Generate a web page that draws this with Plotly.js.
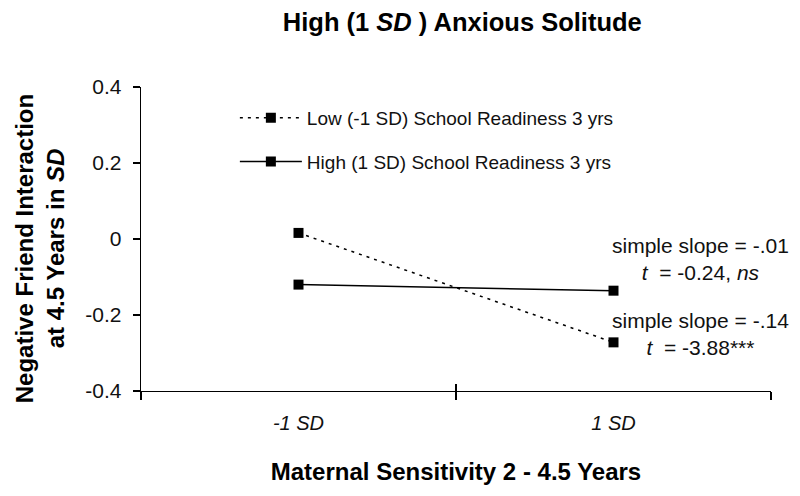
<!DOCTYPE html>
<html>
<head>
<meta charset="utf-8">
<script src="https://cdn.plot.ly/plotly-3.0.1.min.js"></script>
<style>
  body { margin: 0; background: white; }
  #chart { width: 800px; height: 496px; }
</style>
</head>
<body>
<div id="chart"></div>
<script>
// maternal sensitivity levels (x categories)
const sensitivity = ["-1 SD", "1 SD"];

// negative friend interaction at 4.5 yrs, per school readiness group
const lowReadiness = [0.016, -0.272];
const highReadiness = [-0.12, -0.136];

const seriesNames = [
  "Low (-1 SD) School Readiness 3 yrs",
  "High (1 SD) School Readiness 3 yrs",
];

const yTickVals = [-0.4, -0.2, 0, 0.2, 0.4];
const yTickText = ["-0.4", "-0.2", "0", "0.2", "0.4"];

const slopeNotes = [
  { text: "simple slope = -.01<br><i>t</i>  = -0.24, <i>ns</i>", y: -0.053 },
  { text: "simple slope = -.14<br><i>t</i>  = -3.88***", y: -0.251 },
];

const FONT = "Liberation Sans, Arial, Helvetica, sans-serif";

const traceLow = {
  x: sensitivity,
  y: lowReadiness,
  mode: "lines+markers",
  name: seriesNames[0],
  legendgroup: "low",
  line: { color: "#000", width: 1.5, dash: "3px,5px" },
  marker: { symbol: "square", size: 10, color: "#000" },
};

const traceHigh = {
  x: sensitivity,
  y: highReadiness,
  mode: "lines+markers",
  name: seriesNames[1],
  legendgroup: "high",
  line: { color: "#000", width: 1.5 },
  marker: { symbol: "square", size: 10, color: "#000" },
};

// invisible trace so the overlay axis (upper half of the crossing ticks) gets drawn
const traceTicks = {
  x: [0.5],
  y: [0],
  xaxis: "x2",
  mode: "markers",
  marker: { opacity: 0 },
  showlegend: false,
  hoverinfo: "skip",
};

const annotations = slopeNotes.map((n) => ({
  text: n.text,
  xref: "paper",
  x: 0.888,
  yref: "y",
  y: n.y,
  xanchor: "center",
  yanchor: "middle",
  showarrow: false,
  align: "center",
  font: { family: FONT, size: 21, color: "#111" },
}));

// y axis title as rotated annotation
annotations.push({
  text: "Negative Friend Interaction<br>at 4.5 Years in <i>SD</i>",
  textangle: -90,
  xref: "paper",
  x: -0.16,
  yref: "paper",
  y: 0.467,
  xanchor: "center",
  yanchor: "middle",
  showarrow: false,
  font: { family: FONT, size: 24, color: "#000", weight: "bold" },
});

const layout = {
  width: 800,
  height: 496,
  margin: { l: 141, r: 29, t: 87, b: 105 },
  paper_bgcolor: "white",
  plot_bgcolor: "white",
  font: { family: FONT, size: 20, color: "#111" },
  title: {
    text: "High (1 <i>SD</i> ) Anxious Solitude",
    xref: "paper",
    x: 0.51,
    yref: "container",
    y: 0.955,
    yanchor: "middle",
    font: { family: FONT, size: 25.5, color: "#000", weight: "bold" },
  },
  xaxis: {
    type: "category",
    range: [-0.5, 1.5],
    tickson: "boundaries",
    ticks: "outside",
    ticklen: 8,
    tickwidth: 1.3,
    tickcolor: "#000",
    showline: true,
    linecolor: "#000",
    linewidth: 1.3,
    showgrid: false,
    zeroline: false,
    tickfont: { family: FONT, size: 20, style: "italic", color: "#111" },
    ticklabelstandoff: 14,
    title: {
      text: "Maternal Sensitivity 2 - 4.5 Years",
      standoff: 30,
      font: { family: FONT, size: 24, color: "#000", weight: "bold" },
    },
  },
  xaxis2: {
    overlaying: "x",
    anchor: "y",
    side: "bottom",
    range: [-0.5, 1.5],
    tickvals: [-0.5, 0.5, 1.5],
    ticks: "inside",
    ticklen: 7,
    tickwidth: 1.3,
    tickcolor: "#000",
    showticklabels: false,
    showline: false,
    showgrid: false,
    zeroline: false,
  },
  yaxis: {
    range: [-0.4, 0.4],
    tickvals: yTickVals,
    ticktext: yTickText,
    ticks: "outside",
    ticklen: 7,
    tickwidth: 1.3,
    tickcolor: "#000",
    showline: true,
    linecolor: "#000",
    linewidth: 1.3,
    showgrid: false,
    zeroline: false,
    tickfont: { family: FONT, size: 21, color: "#111" },
    ticklabelstandoff: 7,
  },
  showlegend: true,
  legend: {
    x: 0.149,
    xanchor: "left",
    xref: "paper",
    y: 0.961,
    yanchor: "top",
    yref: "paper",
    bgcolor: "rgba(0,0,0,0)",
    font: { family: FONT, size: 19, color: "#111" },
    traceorder: "grouped",
    tracegroupgap: 16,
    itemwidth: 62,
  },
  annotations: annotations,
};

Plotly.newPlot("chart", [traceLow, traceHigh, traceTicks], layout, {
  displayModeBar: false,
  staticPlot: true,
});
</script>
</body>
</html>
